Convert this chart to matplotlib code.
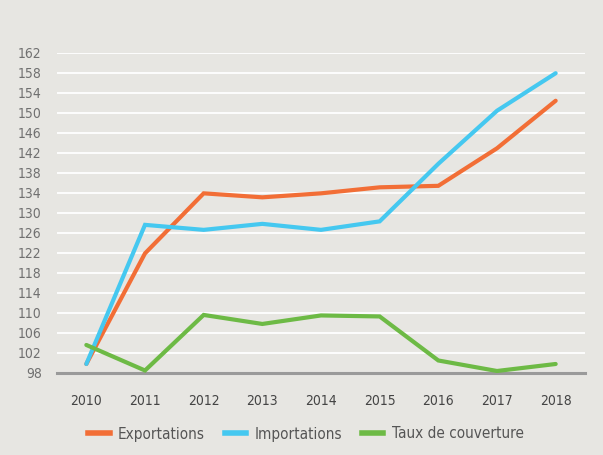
import matplotlib
matplotlib.use("Agg")
import matplotlib.pyplot as plt
from matplotlib.lines import Line2D
from matplotlib.font_manager import FontProperties

years = [2010, 2011, 2012, 2013, 2014, 2015, 2016, 2017, 2018]
exportations = [99.8, 121.9, 133.9, 133.1, 133.9, 135.1, 135.4, 142.9, 152.4]
importations = [99.8, 127.6, 126.6, 127.8, 126.6, 128.3, 139.8, 150.4, 157.9]
taux_couverture = [103.6, 98.5, 109.6, 107.8, 109.5, 109.3, 100.5, 98.4, 99.8]
y_ticks = list(range(98, 163, 4))
series_labels = ["Exportations", "Importations", "Taux de couverture"]
colors = ["#F26E36", "#45C8F0", "#6DBA45"]

bg = "#E7E6E2"
text_color = "#707070"

tick_font = FontProperties(family="DejaVu Sans", stretch="condensed", size=10)
leg_font = FontProperties(family="DejaVu Sans", stretch="condensed", size=11)

fig = plt.figure(figsize=(6.03, 4.55), dpi=100, facecolor=bg)
ax = fig.add_axes([57 / 603, 1 - 373 / 455, (585 - 57) / 603, (373 - 52.7) / 455])
ax.set_facecolor(bg)

for vals, c in zip([exportations, importations, taux_couverture], colors):
    ax.plot(years, vals, color=c, lw=3.0, solid_capstyle="round", solid_joinstyle="miter", zorder=3)

ax.set_xlim(2009.5, 2018.5)
ax.set_ylim(98, 162)
ax.set_yticks(y_ticks)
ax.set_xticks(years)
ax.set_yticklabels([str(t) for t in y_ticks], fontproperties=tick_font, color=text_color)
ax.set_xticklabels([str(y) for y in years], fontproperties=tick_font, color="#444444")
ax.grid(axis="y", color="white", lw=1.3, zorder=1)
ax.set_axisbelow(True)
for s in ["top", "right", "left"]:
    ax.spines[s].set_visible(False)
ax.spines["bottom"].set_color("#9A9A9A")
ax.spines["bottom"].set_linewidth(2.2)
ax.spines["bottom"].set_zorder(2)
ax.tick_params(axis="both", length=0)
ax.tick_params(axis="y", pad=11)
ax.tick_params(axis="x", pad=15)

handles = [Line2D([0], [0], color=c, lw=4) for c in colors]
leg = fig.legend(handles, series_labels, loc="center", bbox_to_anchor=(306 / 603, 1 - 434 / 455),
                 ncol=3, frameon=False, handlelength=1.4, handletextpad=0.55, columnspacing=1.3,
                 prop=leg_font)
for t in leg.get_texts():
    t.set_color("#555555")

fig.savefig("out.png", dpi=100, facecolor=bg)
